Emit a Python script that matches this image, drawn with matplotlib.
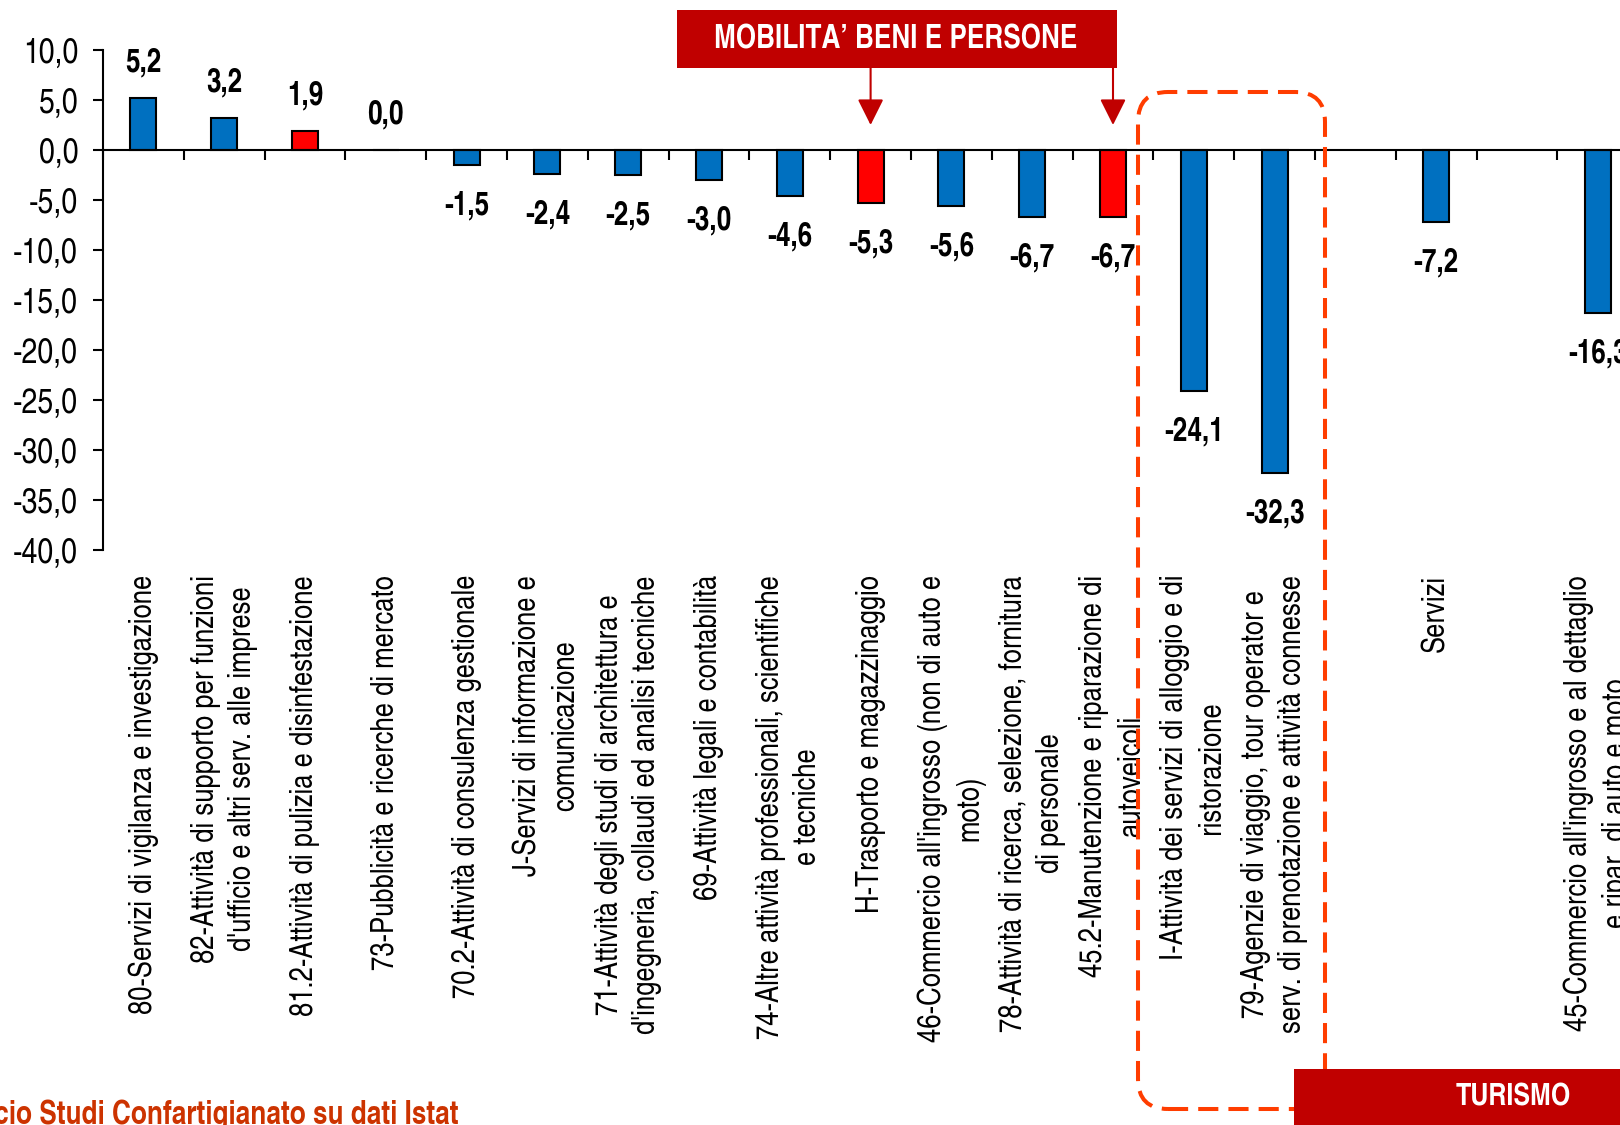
import numpy as np
import matplotlib
matplotlib.use("Agg")
import matplotlib.pyplot as plt
from matplotlib.patches import FancyBboxPatch, Rectangle
from matplotlib.transforms import IdentityTransform

# Dati
categorie = [
    "80-Servizi di vigilanza e investigazione",
    "82-Attività di supporto per funzioni\nd'ufficio e altri serv. alle imprese",
    "81.2-Attività di pulizia e disinfestazione",
    "73-Pubblicità e ricerche di mercato",
    "70.2-Attività di consulenza gestionale",
    "J-Servizi di informazione e\ncomunicazione",
    "71-Attività degli studi di architettura e\nd'ingegneria, collaudi ed analisi tecniche",
    "69-Attività legali e contabilità",
    "74-Altre attività professionali, scientifiche\ne tecniche",
    "H-Trasporto e magazzinaggio",
    "46-Commercio all'ingrosso (non di auto e\nmoto)",
    "78-Attività di ricerca, selezione, fornitura\ndi personale",
    "45.2-Manutenzione e riparazione di\nautoveicoli",
    "I-Attività dei servizi di alloggio e di\nristorazione",
    "79-Agenzie di viaggio, tour operator e\nserv. di prenotazione e attività connesse",
    "",
    "Servizi",
    "",
    "45-Commercio all'ingrosso e al dettaglio\ne ripar. di auto e moto",
]
valori = [5.2, 3.2, 1.9, 0.0, -1.5, -2.4, -2.5, -3.0, -4.6, -5.3, -5.6, -6.7, -6.7,
          -24.1, -32.3, np.nan, -7.2, np.nan, -16.3]
mobilita = [2, 9, 12]          # barre in rosso
frecce = [9, 12]               # categorie indicate da "MOBILITA' BENI E PERSONE"
y_ticks = [10, 5, 0, -5, -10, -15, -20, -25, -30, -35, -40]
y_labels = ["10,0", "5,0", "0,0", "-5,0", "-10,0", "-15,0", "-20,0", "-25,0", "-30,0", "-35,0", "-40,0"]
fonte = "Elaborazione Ufficio Studi Confartigianato su dati Istat"

BLU = "#0070C0"
ROSSO = "#FF0000"
ROSSO_SCURO = "#C00000"
ARANCIO = "#FF3D00"

plt.rcParams["font.family"] = ["TeX Gyre Heros Cn", "Liberation Sans", "DejaVu Sans"]

W, H = 1620, 1125
fig = plt.figure(figsize=(W / 100, H / 100), dpi=100)
n_cat = 20
ax = fig.add_axes([103 / W, 1 - 550 / H, n_cat * 80.8 / W, 500 / H])

x = np.arange(len(valori)) + 0.5
colori = [ROSSO if i in mobilita else BLU for i in range(len(valori))]
ax.bar(x, valori, width=0.32, color=colori, edgecolor="black", linewidth=1.5, zorder=3)

ax.set_xlim(0, n_cat)
ax.set_ylim(-40, 10)
ax.set_yticks(y_ticks)
ax.set_yticklabels(y_labels)
ax.set_xticks(np.arange(0, n_cat + 1))
ax.tick_params(axis="x", direction="out", length=7, width=1.5, labelbottom=False)
ax.tick_params(axis="y", direction="out", length=7, width=1.5, pad=11, labelsize=25)
for s in ["top", "right"]:
    ax.spines[s].set_visible(False)
ax.spines["bottom"].set_position(("data", 0))
ax.spines["bottom"].set_linewidth(1.5)
ax.spines["left"].set_linewidth(1.5)
ax.spines["bottom"].set_zorder(4)

# Etichette dei valori
for xi, v in zip(x, valori):
    if np.isnan(v):
        continue
    testo = f"{v:.1f}".replace(".", ",")
    if v >= 0:
        ax.annotate(testo, (xi, v), xytext=(0, 14), textcoords="offset points",
                    ha="center", va="bottom", fontsize=23, fontweight="bold")
    else:
        ax.annotate(testo, (xi, v), xytext=(0, -18), textcoords="offset points",
                    ha="center", va="top", fontsize=23, fontweight="bold")

# Etichette delle categorie
for xi, lab in zip(x, categorie):
    if lab:
        ax.annotate(lab, (xi, -40), xytext=(0, -18), textcoords="offset points",
                    rotation=90, ha="center", va="top", multialignment="center",
                    fontsize=22.5, linespacing=1.32, annotation_clip=False)

# Riquadro tratteggiato TURISMO
pix = IdentityTransform()
riquadro = FancyBboxPatch((1138, H - 1109), 1325 - 1138, 1109 - 92,
                          boxstyle="round,pad=0,rounding_size=30",
                          transform=pix, fill=False, edgecolor=ARANCIO,
                          linewidth=2.9, linestyle=(0, (5, 2.5)), zorder=5)
fig.patches.append(riquadro)

# Box MOBILITA'
fig.patches.append(Rectangle((677, H - 68), 1117 - 677, 58, transform=pix,
                             facecolor=ROSSO_SCURO, edgecolor="none"))
fig.text(896 / W, 1 - 40 / H, "MOBILITA\u2019 BENI E PERSONE", color="white",
         fontsize=23, fontweight="bold", ha="center", va="center")
for i in frecce:
    ax.annotate("", xy=(x[i], H - 125), xycoords=("data", "figure pixels"),
                xytext=(x[i], H - 68), textcoords=("data", "figure pixels"),
                arrowprops=dict(arrowstyle="-|>,head_length=0.8,head_width=0.4",
                                color=ROSSO_SCURO, lw=1.5, mutation_scale=20,
                                shrinkA=0, shrinkB=0), annotation_clip=False)

# Box TURISMO
fig.patches.append(Rectangle((1294, -10), 400, H - 1069 + 10, transform=pix,
                             facecolor=ROSSO_SCURO, edgecolor="none", zorder=6))
fig.text(1513 / W, 1 - 1098 / H, "TURISMO", color="white", fontsize=22,
         fontweight="bold", ha="center", va="center", zorder=7)

# Fonte
fig.text(458 / W, 1 - 1124 / H, fonte, color="#CC3300", fontsize=23,
         fontweight="bold", ha="right", va="baseline")

fig.savefig("out.png", dpi=100)
